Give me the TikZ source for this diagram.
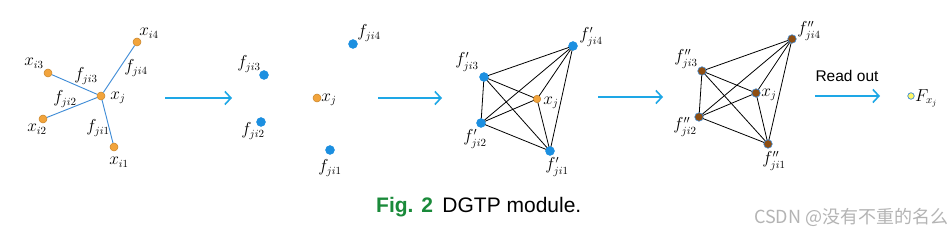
\documentclass[tikz,border=0pt]{standalone}
\usepackage{fontspec}
\setmainfont{Liberation Sans}
\newfontfamily\cjk{Noto Sans CJK SC}
\usetikzlibrary{arrows.meta}
\definecolor{dotorange}{HTML}{F2A43C}
\definecolor{dotorangeedge}{HTML}{C8842A}
\definecolor{dotblue}{HTML}{1C8FE0}
\definecolor{dotbrown}{HTML}{8E4E12}
\definecolor{edgeblue}{HTML}{3C8AD6}
\definecolor{arrowblue}{HTML}{1EA7E6}
\definecolor{figgreen}{HTML}{1A8A3A}
\definecolor{wmgray}{HTML}{B4B4B4}
\tikzset{
  odot/.style={circle,fill=dotorange,draw=dotorangeedge,line width=0.5pt,inner sep=0pt,minimum size=8pt},
  bdot/.style={circle,fill=dotblue,draw=dotblue,inner sep=0pt,minimum size=9pt},
  brdot/.style={circle,fill=dotbrown,draw=edgeblue,line width=0.6pt,inner sep=0pt,minimum size=8.5pt},
  ydot/.style={circle,fill=yellow!60!white,draw=edgeblue,line width=0.7pt,inner sep=0pt,minimum size=6.5pt},
  lbl/.style={inner sep=0pt,font=\fontsize{16}{18}\selectfont},
  bline/.style={draw=edgeblue,line width=0.9pt},
  kline/.style={draw=black,line width=0.8pt},
  flow/.style={draw=arrowblue,line width=1.8pt,-{Straight Barb[length=6pt,width=13pt,line width=1.6pt]}},
}
\begin{document}
\begin{tikzpicture}[x=1pt,y=-1pt]
\useasboundingbox[fill=white] (0,0) rectangle (948,229);
% ---------- Panel 1
\node[odot] (p1j) at (101,96) {};
\node[odot] (p1i4) at (137,42) {};
\node[odot] (p1i3) at (48,73) {};
\node[odot] (p1i2) at (43,119) {};
\node[odot] (p1i1) at (114,147) {};
\draw[bline] (p1j) -- (p1i4);
\draw[bline] (p1j) -- (p1i3);
\draw[bline] (p1j) -- (p1i2);
\draw[bline] (p1j) -- (p1i1);
\node[lbl] (l1i4) at (149,33) {$x_{i4}$};
\node[lbl] (l1i3) at (34,63) {$x_{i3}$};
\node[lbl] (l1j) at (118,98) {$x_j$};
\node[lbl] (l1i2) at (37,129) {$x_{i2}$};
\node[lbl] (l1i1) at (119,162) {$x_{i1}$};
\node[lbl] (l1f3) at (86,76) {$f_{ji3}$};
\node[lbl] (l1f4) at (136,68) {$f_{ji4}$};
\node[lbl] (l1f2) at (65,99) {$f_{ji2}$};
\node[lbl] (l1f1) at (98,128) {$f_{ji1}$};
% arrow 1
\coordinate (a1s) at (165,98);
\coordinate (a1e) at (232,98);
\draw[flow] (a1s) -- (a1e);
% ---------- Panel 2
\node[bdot] (p2f4) at (353,44) {};
\node[bdot] (p2f3) at (264,75) {};
\node[odot] (p2j) at (317,98) {};
\node[bdot] (p2f2) at (261,122) {};
\node[bdot] (p2f1) at (330,150) {};
\node[lbl] (l2f4) at (369,33) {$f_{ji4}$};
\node[lbl] (l2f3) at (249,64) {$f_{ji3}$};
\node[lbl] (l2j) at (329,100) {$x_j$};
\node[lbl] (l2f2) at (253,131) {$f_{ji2}$};
\node[lbl] (l2f1) at (330,168) {$f_{ji1}$};
% arrow 2
\coordinate (a2s) at (378,98);
\coordinate (a2e) at (442,98);
\draw[flow] (a2s) -- (a2e);
% ---------- Panel 3
\coordinate (c3f4) at (573,46);
\coordinate (c3f3) at (484,77);
\coordinate (c3j) at (537,99);
\coordinate (c3f2) at (481,123);
\coordinate (c3f1) at (550,151);
\draw[kline] (c3f4) -- (c3f3) -- (c3f2) -- (c3f1) -- (c3f4) -- (c3f2);
\draw[kline] (c3f3) -- (c3f1);
\draw[kline] (c3j) -- (c3f3);
\draw[kline] (c3j) -- (c3f2);
\draw[kline] (c3j) -- (c3f1);
\draw[kline] (c3j) -- (c3f4);
\node[bdot] (p3f4) at (c3f4) {};
\node[bdot] (p3f3) at (c3f3) {};
\node[odot,minimum size=7.5pt] (p3j) at (c3j) {};
\node[bdot] (p3f2) at (c3f2) {};
\node[bdot] (p3f1) at (c3f1) {};
\node[lbl] (l3f4) at (591,37) {$f'_{ji4}$};
\node[lbl] (l3f3) at (467,62) {$f'_{ji3}$};
\node[lbl] (l3j) at (551,103) {$x_j$};
\node[lbl] (l3f2) at (475,139) {$f'_{ji2}$};
\node[lbl] (l3f1) at (557,167) {$f'_{ji1}$};
% arrow 3
\coordinate (a3s) at (598,97);
\coordinate (a3e) at (663,97);
\draw[flow] (a3s) -- (a3e);
% ---------- Panel 4
\coordinate (c4f4) at (792,39);
\coordinate (c4f3) at (702,71);
\coordinate (c4j) at (756,93);
\coordinate (c4f2) at (699,117);
\coordinate (c4f1) at (768,144);
\draw[kline] (c4f4) -- (c4f3) -- (c4f2) -- (c4f1) -- (c4f4) -- (c4f2);
\draw[kline] (c4f3) -- (c4f1);
\draw[kline] (c4j) -- (c4f3);
\draw[kline] (c4j) -- (c4f2);
\draw[kline] (c4j) -- (c4f1);
\draw[kline] (c4j) -- (c4f4);
\node[brdot] (p4f4) at (c4f4) {};
\node[brdot] (p4f3) at (c4f3) {};
\node[brdot] (p4j) at (c4j) {};
\node[brdot] (p4f2) at (c4f2) {};
\node[brdot] (p4f1) at (c4f1) {};
\node[lbl] (l4f4) at (809,31) {$f''_{ji4}$};
\node[lbl] (l4f3) at (686,59) {$f''_{ji3}$};
\node[lbl] (l4j) at (769,95) {$x_j$};
\node[lbl] (l4f2) at (685,127) {$f''_{ji2}$};
\node[lbl] (l4f1) at (774,161) {$f''_{ji1}$};
% read out arrow
\coordinate (a4s) at (815,96);
\coordinate (a4e) at (880,96);
\draw[flow] (a4s) -- (a4e);
\node[inner sep=0pt,font=\fontsize{15.5}{17}\selectfont,anchor=base] (readout) at (847,82) {Read out};
\node[ydot] (pF) at (911,96) {};
\node[lbl,anchor=west] (lF) at (915,98) {$F_{x_j}$};
% ---------- Caption
\node[inner sep=0pt,anchor=base west,font=\fontsize{21}{24}\selectfont] (cap) at (376,213)
  {\textcolor{figgreen}{\bfseries Fig. 2}\hspace{0.45em}DGTP module.};
\node[inner sep=0pt,anchor=west,text=wmgray,font=\fontsize{18}{20}\selectfont] (wm) at (754,217)
  {\cjk CSDN @没有不重的名么};
\end{tikzpicture}
\end{document}
